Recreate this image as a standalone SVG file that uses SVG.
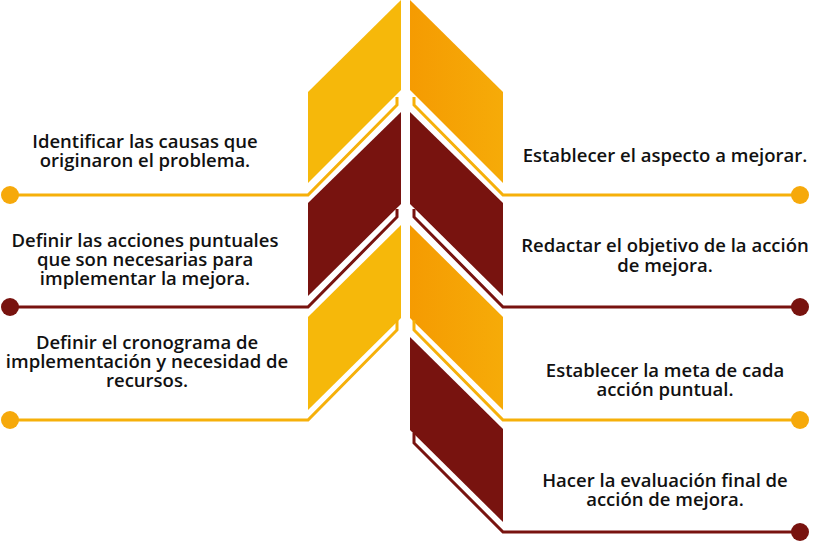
<svg xmlns="http://www.w3.org/2000/svg" width="816" height="542" viewBox="0 0 816 542">
<defs>
<linearGradient id="og" x1="0" x2="1" y1="0" y2="0"><stop offset="0" stop-color="#f59b02"/><stop offset="1" stop-color="#f6ab08"/></linearGradient>
<style>
.y{fill:#f6b80a}.o{fill:url(#og)}.d{fill:#78130f}
.ly{fill:none;stroke:#f6b00a;stroke-width:3}.ld{fill:none;stroke:#78130f;stroke-width:3}
.cy{fill:#f6a90b}.cd{fill:#78130f}
text{font-family:"Open Sans","Liberation Sans",sans-serif;font-weight:600;font-size:18.5px;fill:#111;text-anchor:middle}
</style>
</defs>
<g id="panels">
<polygon class="y" points="308,92 401,0 401,90 308,183"/>
<polygon class="d" points="308,203 401,112 401,204 308,296"/>
<polygon class="y" points="308,317 401,225 401,318 308,410"/>
<polygon class="o" points="410,0 503,92 503,183 410,90"/>
<polygon class="d" points="410,112 503,203 503,296 410,204"/>
<polygon class="o" points="410,225 503,317 503,410 410,318"/>
<polygon class="d" points="410,337 503,429 503,522 410,430"/>
</g>
<g id="connectors">
<polyline class="ly" points="10,195 308,195 397,105 397,97"/>
<polyline class="ld" points="10,307 308,307 397,217 397,209"/>
<polyline class="ly" points="10,420 308,420 397,330 397,320"/>
<polyline class="ly" points="800,195 503,195 414,105 414,97"/>
<polyline class="ld" points="800,307 503,307 414,217 414,209"/>
<polyline class="ly" points="800,420 503,420 414,330 414,320"/>
<polyline class="ld" points="800,532 503,532 414,443 414,433"/>
</g>
<g id="n1"><circle class="cy" cx="10" cy="195" r="9"/><text x="145" y="148">Identificar las causas que</text><text x="145" y="167">originaron el problema.</text></g>
<g id="n2"><circle class="cd" cx="10" cy="307" r="9"/><text x="145" y="247">Definir las acciones puntuales</text><text x="145" y="266">que son necesarias para</text><text x="145" y="285">implementar la mejora.</text></g>
<g id="n3"><circle class="cy" cx="10" cy="420" r="9"/><text x="147" y="349">Definir el cronograma de</text><text x="147" y="368">implementación y necesidad de</text><text x="147" y="387">recursos.</text></g>
<g id="n4"><circle class="cy" cx="800" cy="195" r="9"/><text x="665" y="162">Establecer el aspecto a mejorar.</text></g>
<g id="n5"><circle class="cd" cx="800" cy="307" r="9"/><text x="665" y="252">Redactar el objetivo de la acción</text><text x="665" y="272">de mejora.</text></g>
<g id="n6"><circle class="cy" cx="800" cy="420" r="9"/><text x="665" y="377">Establecer la meta de cada</text><text x="665" y="396">acción puntual.</text></g>
<g id="n7"><circle class="cd" cx="800" cy="532" r="9"/><text x="665" y="487">Hacer la evaluación final de</text><text x="665" y="506">acción de mejora.</text></g>
</svg>
